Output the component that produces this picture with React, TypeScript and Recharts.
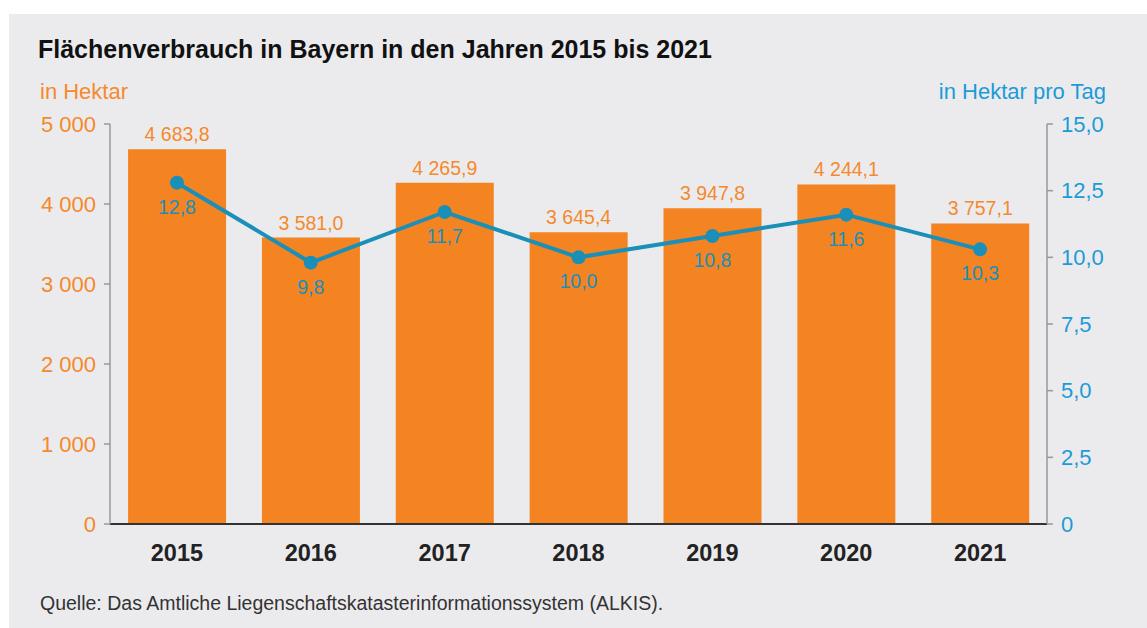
import { ComposedChart, Bar, Line, XAxis, YAxis, LabelList } from 'recharts';

const years = ['2015', '2016', '2017', '2018', '2019', '2020', '2021'];
const hectares = [4683.8, 3581.0, 4265.9, 3645.4, 3947.8, 4244.1, 3757.1];
const perDay = [12.8, 9.8, 11.7, 10.0, 10.8, 11.6, 10.3];
const leftTicks = [0, 1000, 2000, 3000, 4000, 5000];
const rightTicks = [0, 2.5, 5, 7.5, 10, 12.5, 15];

const data = years.map((year, i) => ({ year, ha: hectares[i], day: perDay[i] }));

const ORANGE = '#f48322';
const ORANGE_TEXT = '#f5892c';
const BLUE = '#1a8fb8';
const BLUE_TEXT = '#1c9bd6';
const FONT = '"Liberation Sans", Arial, sans-serif';

// 4683.8 -> "4 683,8", 5000 -> "5 000"
const fmt = (v: number, digits: number) => {
	const [int, dec] = v.toFixed(digits).split('.');
	const grouped = int.replace(/\B(?=(\d{3})+(?!\d))/g, ' ');
	return dec !== undefined ? `${grouped},${dec}` : grouped;
};

export default function App() {
	return (
		<div style={{ position: 'absolute', left: 0, top: 0, width: 1147, height: 628, background: '#fff', fontFamily: FONT }}>
			<div style={{ position: 'absolute', left: 9, top: 14, width: 1138, height: 614, background: '#ebebee' }} />
			<div style={{ position: 'absolute', left: 38, top: 35, fontSize: 25, fontWeight: 'bold', color: '#111', whiteSpace: 'nowrap' }}>
				Flächenverbrauch in Bayern in den Jahren 2015 bis 2021
			</div>
			<div style={{ position: 'absolute', left: 40, top: 79, fontSize: 22, color: ORANGE_TEXT }}>in Hektar</div>
			<div style={{ position: 'absolute', right: 41, top: 79, fontSize: 22, color: BLUE_TEXT }}>in Hektar pro Tag</div>
			<div style={{ position: 'absolute', left: 40, top: 592, fontSize: 19.5, color: '#333', whiteSpace: 'nowrap' }}>
				Quelle: Das Amtliche Liegenschaftskatasterinformationssystem (ALKIS).
			</div>
			<div style={{ position: 'absolute', left: 0, top: 0 }}>
				<ComposedChart
					width={1147}
					height={628}
					data={data}
					margin={{ top: 124, right: 40, left: 40, bottom: 64 }}
					barCategoryGap="13.5%"
				>
					<XAxis
						dataKey="year"
						tickLine={false}
						axisLine={{ stroke: '#333', strokeWidth: 2 }}
						tickMargin={14}
						height={40}
						tick={{ fontSize: 23.5, fontWeight: 'bold', fill: '#222', fontFamily: FONT }}
					/>
					<YAxis
						yAxisId="left"
						domain={[0, 5000]}
						ticks={leftTicks}
						width={70}
						tickSize={6}
						tickMargin={8}
						axisLine={{ stroke: '#999', strokeWidth: 1.5 }}
						tickLine={{ stroke: '#999', strokeWidth: 1.5 }}
						tickFormatter={(v: number) => fmt(v, 0)}
						tick={{ fontSize: 22, fill: ORANGE_TEXT, fontFamily: FONT }}
					/>
					<YAxis
						yAxisId="right"
						orientation="right"
						domain={[0, 15]}
						ticks={rightTicks}
						width={60}
						tickSize={6}
						tickMargin={8}
						axisLine={{ stroke: '#999', strokeWidth: 1.5 }}
						tickLine={{ stroke: '#999', strokeWidth: 1.5 }}
						tickFormatter={(v: number) => (v === 0 ? '0' : fmt(v, 1))}
						tick={{ fontSize: 22, fill: BLUE_TEXT, fontFamily: FONT }}
					/>
					<Bar yAxisId="left" dataKey="ha" fill={ORANGE} isAnimationActive={false}>
						<LabelList
							dataKey="ha"
							position="top"
							offset={8}
							formatter={(v: number) => fmt(v, 1)}
							style={{ fontSize: 19.5, fill: ORANGE_TEXT, fontFamily: FONT }}
						/>
					</Bar>
					<Line
						yAxisId="right"
						dataKey="day"
						stroke={BLUE}
						strokeWidth={4}
						dot={{ r: 7, fill: BLUE, stroke: BLUE, strokeWidth: 0 }}
						isAnimationActive={false}
					>
						<LabelList
							dataKey="day"
							position="bottom"
							offset={17}
							formatter={(v: number) => fmt(v, 1)}
							style={{ fontSize: 19.5, fill: BLUE, fontFamily: FONT }}
						/>
					</Line>
				</ComposedChart>
			</div>
		</div>
	);
}
